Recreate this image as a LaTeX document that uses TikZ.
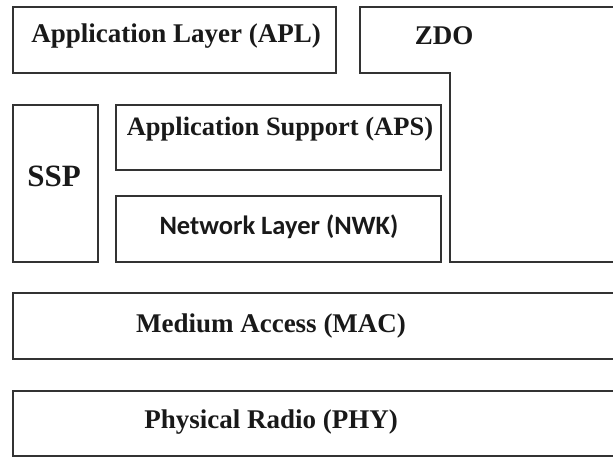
\documentclass[tikz,border=0pt]{standalone}
\usepackage{fontspec}
\setmainfont{Liberation Serif}
\newfontfamily\calib{Carlito}
\begin{document}
\begin{tikzpicture}[x=1pt,y=-1pt,
  layerbox/.style={draw=black!80,line width=1.4pt},
  lbl/.style={font=\bfseries\fontsize{27}{30}\selectfont,text=black!90,inner sep=0pt},
]
\useasboundingbox (0,0) rectangle (613,458);
\clip (0,0) rectangle (613,458);
% boxes
\draw[layerbox] (13,7) rectangle (336,73);
\draw[layerbox] (620,7) -- (360,7) -- (360,73) -- (450,73) -- (450,262) -- (620,262);
\draw[layerbox] (13,105) rectangle (98,262);
\draw[layerbox] (116,105) rectangle (441,170);
\draw[layerbox] (116,196) rectangle (441,262);
\draw[layerbox] (13,293) rectangle (640,359);
\draw[layerbox] (13,391) rectangle (640,456);
% labels
\node[lbl] (apl) at (176,36) {Application Layer (APL)};
\node[lbl] (zdo) at (444,36) {ZDO};
\node[lbl,font=\bfseries\fontsize{31}{34}\selectfont] (ssp) at (54,176) {SSP};
\node[lbl,font=\bfseries\fontsize{26.5}{30}\selectfont] (aps) at (280,129) {Application Support (APS)};
\node[lbl,font=\calib\bfseries\fontsize{26.5}{30}\selectfont] (nwk) at (279,227) {Network Layer (NWK)};
\node[lbl] (mac) at (271,326) {Medium Access (MAC)};
\node[lbl] (phy) at (271,422) {Physical Radio (PHY)};
\end{tikzpicture}
\end{document}
